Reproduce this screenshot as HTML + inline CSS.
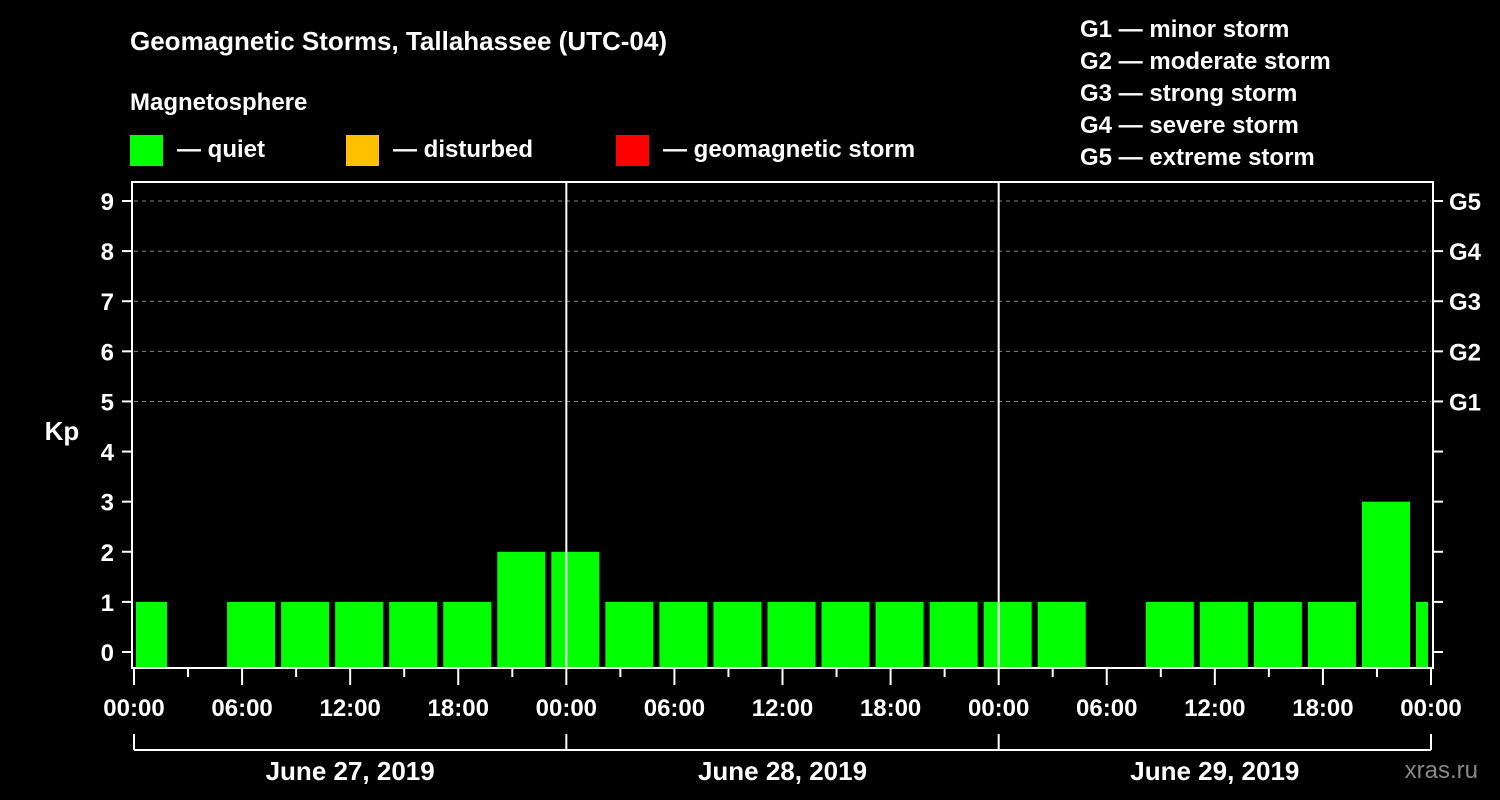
<!DOCTYPE html>
<html><head><meta charset="utf-8"><style>
body{margin:0;background:#000;}
svg{display:block;font-family:"Liberation Sans",Arial,sans-serif;font-weight:bold;}
</style></head><body>
<svg id="chart" width="1500" height="800">
<rect width="1500" height="800" fill="#000"/>
<text x="130" y="50" fill="#fff" font-size="26">Geomagnetic Storms, Tallahassee (UTC-04)</text>
<text x="130" y="110" fill="#fff" font-size="24">Magnetosphere</text>
<g><rect x="130" y="135" width="33" height="31" fill="#00ff00"/><text x="177" y="157" fill="#fff" font-size="24">— quiet</text></g>
<g><rect x="346" y="135" width="33" height="31" fill="#ffc000"/><text x="393" y="157" fill="#fff" font-size="24">— disturbed</text></g>
<g><rect x="616" y="135" width="33" height="31" fill="#ff0000"/><text x="663" y="157" fill="#fff" font-size="24">— geomagnetic storm</text></g>
<g fill="#fff" font-size="24">
<text x="1080" y="37">G1 — minor storm</text>
<text x="1080" y="69">G2 — moderate storm</text>
<text x="1080" y="101">G3 — strong storm</text>
<text x="1080" y="133">G4 — severe storm</text>
<text x="1080" y="165">G5 — extreme storm</text>
</g>
<text x="62" y="440" fill="#fff" font-size="26" text-anchor="middle">Kp</text>
<text x="1478" y="778" fill="#888" font-size="24" text-anchor="end" font-weight="normal">xras.ru</text>
<g id="grid"></g><g id="bars"></g><g id="axes"></g>
</svg>
<script>
const kpValues=[1,0,1,1,1,1,1,2,2,1,1,1,1,1,1,1,1,1,0,1,1,1,1,3,1];
const slotStartHours=-1;
const yTicks=[0,1,2,3,4,5,6,7,8,9];
const gLabels=["G1","G2","G3","G4","G5"];
const xTickLabels=["00:00","06:00","12:00","18:00","00:00","06:00","12:00","18:00","00:00","06:00","12:00","18:00","00:00"];
const dayLabels=["June 27, 2019","June 28, 2019","June 29, 2019"];
const NS="http://www.w3.org/2000/svg";
const X0=134,X1=1431,TOP=182,BOT=668;
const x=h=>X0+(X1-X0)*h/72;
const y=v=>652-(652-201)*v/9;
function mk(t,a,p){const e=document.createElementNS(NS,t);for(const k in a)e.setAttribute(k,a[k]);p.appendChild(e);return e;}
const grid=document.getElementById('grid'),bars=document.getElementById('bars'),axes=document.getElementById('axes');
for(let v=5;v<=9;v++){const l=mk('line',{x1:X0,x2:X1,y1:y(v),y2:y(v),stroke:'#888','stroke-dasharray':'4,4','stroke-width':1},grid);

}
kpValues.forEach((v,i)=>{if(!v)return;
let h0=slotStartHours+3*i,h1=h0+3;
let a=Math.max(x(h0)+3,X0+2),b=Math.min(x(h1)-3,X1-3);
const r=mk('rect',{x:a,y:y(v),width:b-a,height:BOT-y(v),fill:v>=5?'#ff0000':(v>=4?'#ffc000':'#00ff00')},bars);

});
// day separators
[24,48].forEach(h=>{const l=mk('line',{x1:x(h),x2:x(h),y1:TOP,y2:BOT,stroke:'#fff','stroke-width':2},axes);

});
const box=mk('rect',{x:X0-2,y:TOP,width:X1-X0+4,height:BOT-TOP,fill:'none',stroke:'#fff','stroke-width':2},axes);


yTicks.forEach(v=>{
mk('line',{x1:122,x2:X0-2,y1:y(v),y2:y(v),stroke:'#fff','stroke-width':2},axes);
mk('line',{x1:X1+2,x2:X1+12,y1:y(v),y2:y(v),stroke:'#fff','stroke-width':2},axes);
const t=mk('text',{x:114,y:y(v)+9,fill:'#fff','font-size':24,'text-anchor':'end'},axes);t.textContent=v;

});
gLabels.forEach((g,i)=>{const t=mk('text',{x:1449,y:y(5+i)+9,fill:'#fff','font-size':24},axes);t.textContent=g;

});
for(let h=0;h<=72;h+=3){const major=h%6===0;
mk('line',{x1:x(h),x2:x(h),y1:BOT,y2:BOT+(major?17:9),stroke:'#fff','stroke-width':2},axes);}
xTickLabels.forEach((s,i)=>{const t=mk('text',{x:x(i*6),y:716,fill:'#fff','font-size':24,'text-anchor':'middle'},axes);t.textContent=s;

});
mk('line',{x1:x(0),x2:x(72),y1:750,y2:750,stroke:'#fff','stroke-width':2},axes);
[0,24,48,72].forEach(h=>mk('line',{x1:x(h),x2:x(h),y1:734,y2:750,stroke:'#fff','stroke-width':2},axes));
dayLabels.forEach((s,i)=>{const t=mk('text',{x:x(i*24+12),y:780,fill:'#fff','font-size':26,'text-anchor':'middle'},axes);t.textContent=s;

});
</script>
</body></html>
